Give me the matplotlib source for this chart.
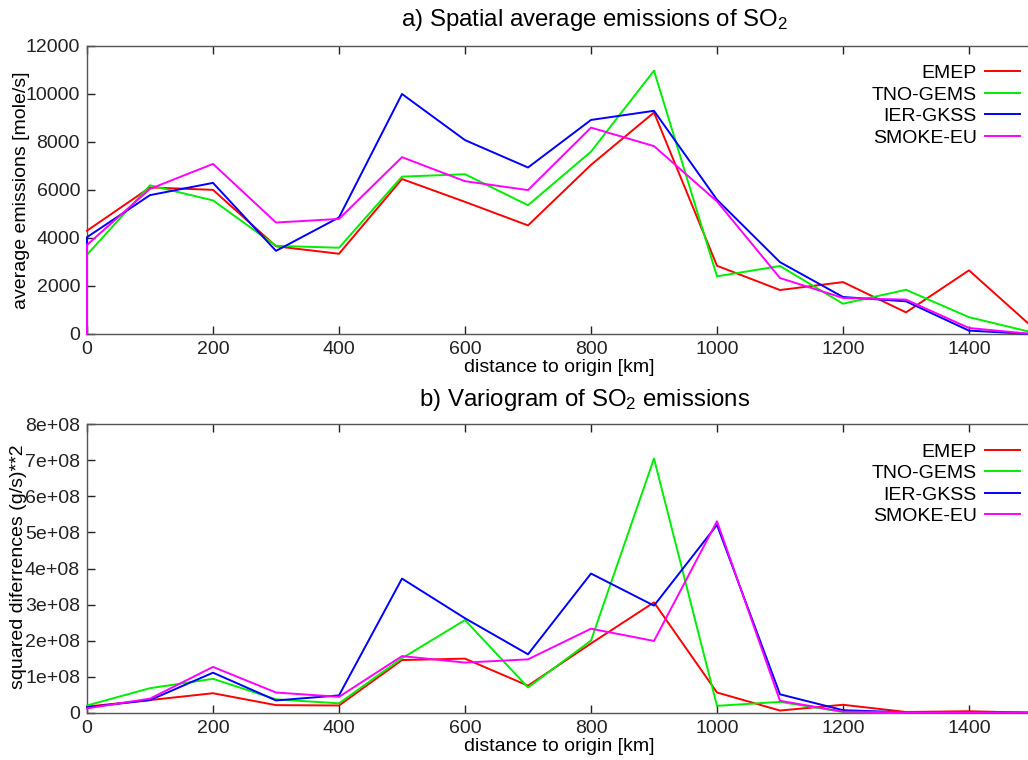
import numpy as np
import matplotlib
matplotlib.use('Agg')
import matplotlib.pyplot as plt

plt.rcParams['font.family'] = ['Liberation Sans', 'DejaVu Sans']
plt.rcParams['mathtext.fontset'] = 'custom'
plt.rcParams['mathtext.rm'] = 'Liberation Sans'
plt.rcParams['mathtext.default'] = 'regular'

# distance to origin [km]
dist = [0, 100, 200, 300, 400, 500, 600, 700, 800, 900, 1000, 1100, 1200, 1300, 1400, 1500]
names = ['EMEP', 'TNO-GEMS', 'IER-GKSS', 'SMOKE-EU']
colors = ['#ff0000', '#00ee00', '#0000ff', '#ff00ff']

# a) spatial average emissions [mole/s]
emep_a = [4300, 6100, 6000, 3650, 3340, 6450, 5500, 4520, 7040, 9220, 2840, 1830, 2160, 900, 2650, 300]
tno_a = [3300, 6190, 5560, 3670, 3590, 6550, 6650, 5360, 7590, 10960, 2400, 2830, 1260, 1840, 700, 70]
ier_a = [4030, 5780, 6290, 3460, 4850, 9990, 8070, 6930, 8910, 9290, 5590, 2990, 1540, 1360, 140, 0]
smoke_a = [3710, 6040, 7080, 4640, 4790, 7360, 6360, 5990, 8590, 7820, 5520, 2330, 1500, 1430, 250, 0]
# ier and smoke files begin with a zero value at the origin
lead_zero = [0]

# b) variogram, squared differences (g/s)**2
emep_b = [0.17e8, 0.35e8, 0.54e8, 0.21e8, 0.20e8, 1.46e8, 1.50e8, 0.75e8, 1.92e8, 3.06e8, 0.56e8, 0.06e8, 0.22e8, 0.02e8, 0.04e8, 0]
tno_b = [0.20e8, 0.68e8, 0.94e8, 0.37e8, 0.26e8, 1.51e8, 2.57e8, 0.70e8, 2.00e8, 7.05e8, 0.19e8, 0.30e8, 0.02e8, 0, 0, 0]
ier_b = [0.15e8, 0.35e8, 1.11e8, 0.34e8, 0.48e8, 3.72e8, 2.62e8, 1.62e8, 3.86e8, 2.97e8, 5.21e8, 0.51e8, 0.07e8, 0.01e8, 0.01e8, 0]
smoke_b = [0.12e8, 0.39e8, 1.27e8, 0.56e8, 0.44e8, 1.57e8, 1.39e8, 1.48e8, 2.33e8, 1.99e8, 5.31e8, 0.33e8, 0.03e8, 0.01e8, 0.01e8, 0]

fig = plt.figure(figsize=(10.28, 7.6), dpi=100)
W, H = 1028, 760
left = 87 / W
width = (1032 - 87) / W
ax1 = fig.add_axes([left, 1 - 334 / H, width, (334 - 45.7) / H])
ax2 = fig.add_axes([left, 1 - 712.7 / H, width, (712.7 - 424.3) / H])

series_a = [(dist, emep_a), (dist, tno_a), (lead_zero + dist, lead_zero + ier_a), (lead_zero + dist, lead_zero + smoke_a)]
series_b = [(dist, emep_b), (dist, tno_b), (dist, ier_b), (dist, smoke_b)]

for ax, series in [(ax1, series_a), (ax2, series_b)]:
    for (x, y), name, c in zip(series, names, colors):
        ax.plot(x, y, color=c, lw=1.4, label=name, zorder=3, clip_on=False)
    ax.set_xlim(0, 1500)
    ax.set_xticks(np.arange(0, 1401, 200))
    ax.tick_params(direction='in', length=6, width=1, top=True, right=False,
                   labelsize=14, pad=5, colors='#222222')
    for s in ax.spines.values():
        s.set_color('#555555')
        s.set_linewidth(1)
    ax.set_xlabel('distance to origin [km]', fontsize=14, labelpad=1)
    leg = ax.legend(loc='upper right', bbox_to_anchor=(0.987, 0.935), markerfirst=False,
                    frameon=False, fontsize=14, handlelength=1.8, handletextpad=0.4,
                    labelspacing=0.2, borderpad=0, borderaxespad=0)

ax1.set_ylim(0, 12000)
ax1.set_yticks(np.arange(0, 12001, 2000))
ax1.set_ylabel('average emissions [mole/s]', fontsize=14)
ax1.yaxis.set_label_coords(-0.060, 0.5)

ax2.set_ylim(0, 8e8)
yt = np.arange(0, 8.01e8, 1e8)
ax2.set_yticks(yt)
ax2.set_yticklabels(['0'] + ['%de+08' % (v / 1e8) for v in yt[1:]])
ax2.set_ylabel('squared diferrences (g/s)**2', fontsize=14)
ax2.yaxis.set_label_coords(-0.0635, 0.505)

fig.text(595 / W, 1 - 20 / H, 'a) Spatial average emissions of SO$_2$', fontsize=17.3,
         ha='center', va='center')
fig.text(585 / W, 1 - 400 / H, 'b) Variogram of SO$_2$ emissions', fontsize=17.3,
         ha='center', va='center')

fig.savefig('out.png', dpi=100)
